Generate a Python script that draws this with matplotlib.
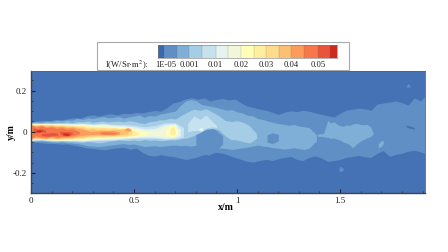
import matplotlib
matplotlib.use("Agg")
import matplotlib.pyplot as plt
from matplotlib.patches import Rectangle

plt.rcParams['font.family'] = ['Liberation Serif', 'DejaVu Serif']

level_colors = ['#4472B5', '#5F8FC4', '#7FAFD6', '#A6CDE6', '#C6E2F0', '#E3F3F0', '#F1F7D8', '#FFFFB8',
                '#FFEE9E', '#FEDC8C', '#FDBF70', '#FC9B5C', '#F5774A', '#E8553A', '#CF2A20']
cbar_colors = ['#3A68AC'] + level_colors[1:]
cbar_edges = [0, 0.5, 1.5, 2.5, 3.5, 4.6, 5.6, 6.6, 7.6, 8.6, 9.6, 10.6, 11.6, 12.7, 13.7, 14.2]
cbar_ticks = [0.65, 2.5, 4.6, 6.6, 8.6, 10.6, 12.7]
cbar_labels = ['1E-05', '0.001', '0.01', '0.02', '0.03', '0.04', '0.05']
x_ticks = [0, 0.5, 1, 1.5]
x_tick_labels = ['0', '0.5', '1', '1.5']
y_ticks = [-0.2, 0, 0.2]
y_tick_labels = ['-0.2', '0', '0.2']

# Each region: level index, x stations, upper edge, lower edge (metres)
x1 = [0, .03, .06, .09, .12, .15, .18, .21, .24, .27, .30, .33, .36, .39, .42, .45, .48, .51, .54, .57, .60, .63, .66,
      .69, .72, .75, .78, .81, .84, .87, .90, .93, .96, .99, 1.02, 1.05, 1.08, 1.11, 1.14, 1.17, 1.20, 1.23, 1.26,
      1.29, 1.32, 1.35, 1.38, 1.41, 1.44, 1.47, 1.50, 1.53, 1.56, 1.59, 1.62, 1.65, 1.68, 1.71, 1.74, 1.77, 1.80,
      1.83, 1.86, 1.89, 1.91]
up1 = [.050, .052, .056, .054, .060, .058, .064, .068, .066, .078, .082, .076, .084, .088, .082, .090, .088, .094, .092,
       .098, .104, .100, .118, .140, .148, .160, .166, .158, .165, .150, .158, .162, .155, .160, .140, .125, .118, .110,
       .105, .095, .085, .095, .102, .098, .105, .100, .092, .085, .078, .072, .090, .105, .110, .115, .112, .105, .135,
       .140, .145, .150, .142, .130, .165, .150, .170]
lo1 = [-.050, -.052, -.055, -.057, -.058, -.060, -.060, -.066, -.072, -.078, -.082, -.085, -.088, -.082, -.078, -.076,
       -.085, -.080, -.100, -.115, -.118, -.112, -.118, -.120, -.128, -.135, -.130, -.122, -.112, -.105, -.100, -.105,
       -.115, -.125, -.135, -.145, -.148, -.140, -.135, -.140, -.132, -.125, -.120, -.135, -.140, -.125, -.118, -.128,
       -.145, -.140, -.135, -.125, -.120, -.115, -.122, -.125, -.105, -.092, -.120, -.110, -.105, -.095, -.090, -.098,
       -.105]
x1s = [1.82, 1.83, 1.84]
up1s = [.222, .236, .222]
lo1s = [.218, .218, .218]
x1t = [1.495, 1.505, 1.515]
up1t = [-.172, -.170, -.178]
lo1t = [-.190, -.195, -.186]
x2 = [0, .025, .05, .075, .10, .125, .15, .175, .20, .225, .25, .275, .30, .325, .35, .375, .40, .425, .45, .475, .50,
      .525, .55, .575, .60, .625, .65, .675, .70, .725, .75, .775, .80, .825, .85, .875, .90, .925, .95, .975, 1.0,
      1.025, 1.05, 1.075, 1.10, 1.125, 1.15, 1.175, 1.20, 1.225, 1.25, 1.275, 1.30, 1.325, 1.35, 1.385]
up2 = [.046, .049, .047, .052, .050, .056, .053, .058, .056, .066, .060, .068, .064, .070, .074, .068, .070, .075, .066,
       .072, .076, .082, .070, .080, .076, .086, .090, .096, .100, .128, .150, .156, .152, .134, .128, .124, .118, .112,
       .105, .108, .097, .092, .080, .078, .065, .060, .052, .046, .040, .036, .032, .036, .028, .024, .020, -.015]
lo2 = [-.046, -.047, -.045, -.048, -.050, -.052, -.050, -.054, -.055, -.058, -.062, -.068, -.070, -.072, -.070, -.066,
       -.064, -.060, -.058, -.062, -.060, -.066, -.072, -.070, -.068, -.072, -.070, -.066, -.065, -.068, -.066, -.070,
       -.066, -.072, -.070, -.074, -.078, -.080, -.082, -.086, -.082, -.078, -.075, -.070, -.065, -.070, -.072, -.078,
       -.080, -.084, -.082, -.078, -.082, -.086, -.080, -.045]
x2b = [1.39, 1.42, 1.44, 1.455, 1.47, 1.485, 1.50, 1.515, 1.53, 1.545, 1.56, 1.58, 1.595, 1.61, 1.63, 1.647, 1.66]
up2b = [-.012, -.008, .055, .042, .050, .036, .030, .026, .034, .030, .038, .042, .036, .034, .036, .025, -.005]
lo2b = [-.022, -.024, -.028, -.032, -.030, -.036, -.040, -.050, -.055, -.062, -.078, -.060, -.048, -.040, -.030, -.024,
        -.012]
x2c = [1.685, 1.70, 1.71]
up2c = [-.060, -.042, -.046]
lo2c = [-.078, -.072, -.058]
x_hole1 = [.80, .83, .86, .89, .93]
up_hole1 = [-.012, .012, .018, .014, -.020]
lo_hole1 = [-.085, -.105, -.115, -.100, -.060]
x_hole2 = [1.145, 1.17, 1.20]
up_hole2 = [-.015, -.005, -.012]
lo_hole2 = [-.050, -.058, -.045]
x_dark = [1.82, 1.84, 1.86]
up_dark = [.032, .028, .020]
lo_dark = [.024, .016, .014]
x3 = [0, .025, .05, .075, .10, .125, .15, .175, .20, .225, .25, .275, .30, .325, .35, .375, .40, .425, .45, .475, .50,
      .525, .55, .575, .60, .625, .65, .675, .70, .715, .73, .76, .79, .82, .85, .88, .91, .94, .97, 1.0, 1.03, 1.06,
      1.095]
up3 = [.042, .044, .042, .046, .043, .046, .044, .048, .044, .050, .048, .052, .046, .050, .052, .048, .050, .052, .048,
       .054, .050, .044, .040, .048, .052, .058, .058, .066, .062, .070, .080, .096, .110, .104, .112, .096, .080, .056,
       .050, .054, .046, .030, -.010]
lo3 = [-.042, -.042, -.040, -.044, -.046, -.048, -.044, -.048, -.048, -.050, -.052, -.048, -.050, -.054, -.052, -.046,
       -.044, -.040, -.042, -.044, -.040, -.044, -.038, -.042, -.040, -.044, -.042, -.040, -.040, -.038, -.034, -.030,
       -.018, -.004, .012, .016, .010, -.018, -.038, -.040, -.048, -.055, -.032]
x3b = [.76, .79, .82, .85, .88, .90]
up3b = [.040, .078, .060, .082, .050, .030]
lo3b = [.000, .006, .008, .018, .024, .020]
x4 = [0, .05, .10, .15, .20, .25, .30, .35, .40, .45, .50, .55, .60, .65, .70, .74]
up4 = [.041, .041, .040, .041, .040, .043, .038, .042, .036, .036, .032, .024, .030, .044, .044, .020]
lo4 = [-.041, -.039, -.042, -.043, -.044, -.046, -.044, -.042, -.040, -.036, -.032, -.032, -.032, -.036, -.034, -.025]
x4b = [.815, .825, .835]
up4b = [.016, .024, .014]
lo4b = [.006, .004, .008]
x5 = [0, .05, .10, .15, .20, .25, .30, .35, .40, .45, .50, .55, .60, .65, .70, .725]
up5 = [.040, .040, .039, .040, .038, .040, .035, .038, .032, .030, .024, .014, .016, .036, .040, .012]
lo5 = [-.040, -.038, -.041, -.042, -.042, -.044, -.040, -.038, -.036, -.032, -.028, -.026, -.026, -.032, -.030, -.020]
x6 = [0, .05, .10, .15, .20, .25, .30, .35, .40, .45, .50, .55, .58, .62, .65, .68, .71]
up6 = [.039, .039, .038, .039, .036, .036, .032, .034, .028, .026, .018, .010, .006, .012, .028, .036, .008]
lo6 = [-.039, -.037, -.040, -.041, -.040, -.041, -.036, -.034, -.032, -.028, -.026, -.022, -.018, -.020, -.026, -.026,
       -.016]
x7 = [0, .05, .10, .15, .20, .25, .30, .35, .40, .45, .50, .53, .56]
up7 = [.038, .038, .037, .037, .034, .032, .028, .028, .024, .022, .012, .002, -.002]
lo7 = [-.038, -.036, -.039, -.040, -.038, -.038, -.032, -.030, -.028, -.026, -.022, -.018, -.014]
x7b = [.655, .675, .695, .71]
up7b = [.012, .030, .034, .006]
lo7b = [-.016, -.024, -.024, -.012]
x8 = [0, .05, .10, .15, .20, .25, .30, .35, .40, .45, .50, .52]
up8 = [.037, .037, .036, .035, .032, .030, .025, .024, .021, .018, .006, -.002]
lo8 = [-.037, -.035, -.038, -.038, -.036, -.034, -.028, -.027, -.025, -.024, -.019, -.013]
x8b = [.675, .69, .70]
up8b = [.014, .028, .006]
lo8b = [-.014, -.016, -.010]
x9 = [0, .025, .05, .075, .10, .125, .15, .175, .20, .225, .25, .275, .30, .325, .35, .375, .40, .425, .45, .49]
up9 = [.036, .034, .036, .033, .035, .031, .033, .030, .030, .026, .027, .020, .022, .019, .021, .017, .019, .016, .014,
       .000]
lo9 = [-.036, -.034, -.036, -.037, -.034, -.037, -.036, -.033, -.034, -.030, -.031, -.026, -.026, -.023, -.025, -.022,
       -.023, -.020, -.021, -.015]
x10 = [0, .025, .05, .075, .10, .125, .15, .175, .20, .225, .25, .275, .30, .325, .35, .375, .40, .425, .47]
up10 = [.035, .032, .034, .030, .032, .028, .030, .026, .026, .022, .020, .012, .014, .010, .012, .009, .012, .010,
        .018]
lo10 = [-.034, -.030, -.033, -.034, -.030, -.034, -.032, -.030, -.030, -.026, -.026, -.020, -.020, -.017, -.019, -.016,
        -.018, -.015, -.010]
x11 = [0, .025, .05, .075, .10, .125, .15, .175, .20, .225, .25, .29, .33, .37, .40, .43]
up11 = [.033, .028, .032, .026, .029, .024, .026, .020, .022, .016, .012, .001, .004, .005, .006, .000]
lo11 = [-.032, -.026, -.030, -.031, -.026, -.031, -.028, -.027, -.026, -.020, -.018, -.013, -.013, -.015, -.015, -.012]
x12 = [.005, .025, .05, .075, .10, .125, .15, .175, .20, .235]
up12 = [.030, .022, .028, .020, .024, .016, .020, .012, .014, .000]
lo12 = [-.028, -.020, -.025, -.027, -.020, -.027, -.022, -.022, -.020, -.010]
x12b = [.335, .36, .39, .415]
up12b = [-.002, .000, -.002, -.004]
lo12b = [-.008, -.012, -.012, -.008]
x11c = [.455, .47, .485]
up11c = [.016, .020, .012]
lo11c = [.006, .004, .002]
x13a = [.01, .03, .05, .07]
up13a = [.020, .012, .016, .008]
lo13a = [.002, -.006, .002, -.004]
x13b = [.05, .08, .11, .13]
up13b = [-.008, -.006, -.004, -.008]
lo13b = [-.018, -.022, -.020, -.016]
x13c = [.14, .16, .18, .20]
up13c = [.004, .000, .000, -.002]
lo13c = [-.012, -.020, -.020, -.012]
x14a = [.155, .17, .185]
up14a = [-.006, -.006, -.008]
lo14a = [-.014, -.018, -.016]
x14b = [.025, .04, .055]
up14b = [.008, .010, .006]
lo14b = [.000, -.002, .002]

regions = [
    (1, x1, up1, lo1), (1, x1s, up1s, lo1s), (1, x1t, up1t, lo1t), (0, x_dark, up_dark, lo_dark),
    (2, x2, up2, lo2), (2, x2b, up2b, lo2b), (2, x2c, up2c, lo2c), (1, x_hole1, up_hole1, lo_hole1),
    (1, x_hole2, up_hole2, lo_hole2), (3, x3, up3, lo3), (4, x3b, up3b, lo3b), (4, x4, up4, lo4),
    (5, x4b, up4b, lo4b), (5, x5, up5, lo5), (6, x6, up6, lo6),
    (7, x7, up7, lo7), (7, x7b, up7b, lo7b), (8, x8, up8, lo8), (8, x8b, up8b, lo8b), (9, x9, up9, lo9),
    (10, x10, up10, lo10), (11, x11, up11, lo11), (11, x11c, up11c, lo11c), (12, x12, up12, lo12),
    (12, x12b, up12b, lo12b), (13, x13a, up13a, lo13a), (13, x13b, up13b, lo13b), (13, x13c, up13c, lo13c),
    (14, x14a, up14a, lo14a), (14, x14b, up14b, lo14b),
]

fig = plt.figure(figsize=(4.48, 2.52), dpi=100)
W, H = 448, 252
ax = fig.add_axes([31 / W, 1 - 192.7 / H, 394 / W, 121.7 / H])
ax.set_facecolor(level_colors[0])
for level, xs, up, lo in regions:
    ax.fill_between(xs, lo, up, color=level_colors[level], lw=0)
ax.set_xlim(0, 1.912)
ax.set_ylim(-0.297, 0.296)
ax.set_xticks(x_ticks, x_tick_labels)
ax.set_yticks(y_ticks, y_tick_labels)
ax.set_xticks([.1, .2, .3, .4, .6, .7, .8, .9, 1.1, 1.2, 1.3, 1.4, 1.6, 1.7, 1.8, 1.9], minor=True)
ax.set_yticks([-.25, -.15, -.1, -.05, .05, .1, .15, .25], minor=True)
ax.tick_params(which='major', direction='in', length=3, width=0.8, labelsize=6.5, colors='#222222', pad=3)
ax.tick_params(which='minor', direction='in', length=1.5, width=0.6, colors='#333333')
for s in ('top', 'right'):
    ax.spines[s].set_color('#3A68AC')
    ax.spines[s].set_linewidth(0.6)
for s in ('left', 'bottom'):
    ax.spines[s].set_color('#444444')
    ax.spines[s].set_linewidth(1.0)
fig.text(226 / W, 1 - 207.5 / H, 'x/m', ha='center', va='center', fontsize=7, fontweight='bold')
fig.text(11 / W, 1 - 132 / H, 'y/m', ha='center', va='center', fontsize=7, fontweight='bold', rotation=90)

# Legend frame
fig.add_artist(Rectangle((97 / W, 1 - 70 / H), 252 / W, 28 / H, transform=fig.transFigure, facecolor='white',
                         edgecolor='#AAAAAA', lw=0.8, zorder=3))
cax = fig.add_axes([157.7 / W, 1 - 58 / H, 179 / W, 13 / H], zorder=4)
for i, c in enumerate(cbar_colors):
    cax.axvspan(cbar_edges[i], cbar_edges[i + 1], color=c, lw=0)
for e in cbar_edges[1:-1]:
    cax.axvline(e, color='#666666', lw=0.25, alpha=0.6)
cax.set_xlim(cbar_edges[0], cbar_edges[-1])
cax.set_yticks([])
cax.set_xticks(cbar_ticks, cbar_labels)
cax.tick_params(axis='x', length=0, labelsize=6.2, pad=2.5, colors='#222222')
for s in cax.spines.values():
    s.set_color('#777777')
    s.set_linewidth(0.4)
fig.text(105 / W, 1 - 65 / H, 'I(W/Sr·m$^2$):', ha='left', va='center', fontsize=6.2, color='#222222', zorder=5,
         math_fontfamily='stix')
fig.savefig('out.png', dpi=100)
